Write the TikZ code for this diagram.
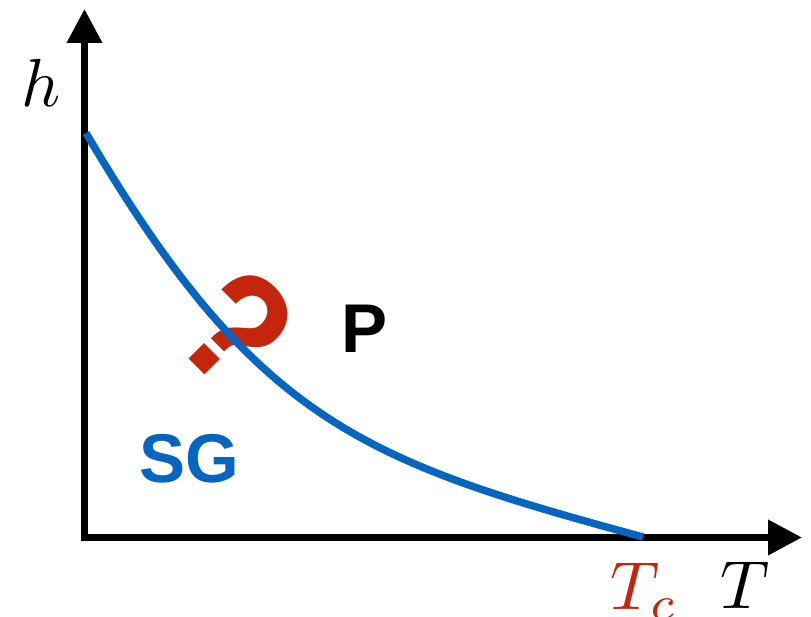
\documentclass[tikz,border=0pt]{standalone}
\usepackage{fontspec}
\newfontfamily\hv{Liberation Sans}
\newfontfamily\hvq{TeX Gyre Heros}
\usetikzlibrary{arrows.meta}
\definecolor{sgblue}{RGB}{6,101,192}
\definecolor{qred}{RGB}{197,37,10}
\tikzset{
  axis/.style={line width=7pt, line join=miter,
    {Triangle[length=34pt,width=34pt]}-{Triangle[length=34pt,width=34pt]}},
  curve/.style={sgblue, line width=7.5pt},
  mathlbl/.style={inner sep=0pt, scale=6.8, anchor=base},
  sanslbl/.style={inner sep=0pt, anchor=base, font=\hv\bfseries\fontsize{69pt}{70pt}\selectfont},
}
\begin{document}
\begin{tikzpicture}[x=1pt,y=-1pt]
\useasboundingbox (0,0) rectangle (811,617);
\coordinate (ytip) at (84.5,9);
\coordinate (O) at (84.5,537.5);
\coordinate (xtip) at (802,537.5);
\draw[axis] (ytip) -- (O) -- (xtip);
\node[qred, inner sep=0pt, rotate=-45, font=\hvq\bfseries\fontsize{150pt}{150pt}\selectfont] (q) at (236,327) {?};
\coordinate (cs) at (86,133);
\coordinate (ce) at (643,537);
\draw[curve] (cs) .. controls (256,422) and (363,461) .. (ce);
\node[mathlbl] (h) at (41,107) {$h$};
\node[mathlbl] (T) at (745,608) {$T$};
\node[mathlbl, qred] (Tc) at (644,609) {$T_c$};
\node[sanslbl, sgblue] (SG) at (189,482) {SG};
\node[sanslbl] (P) at (365,353) {P};
\end{tikzpicture}
\end{document}
